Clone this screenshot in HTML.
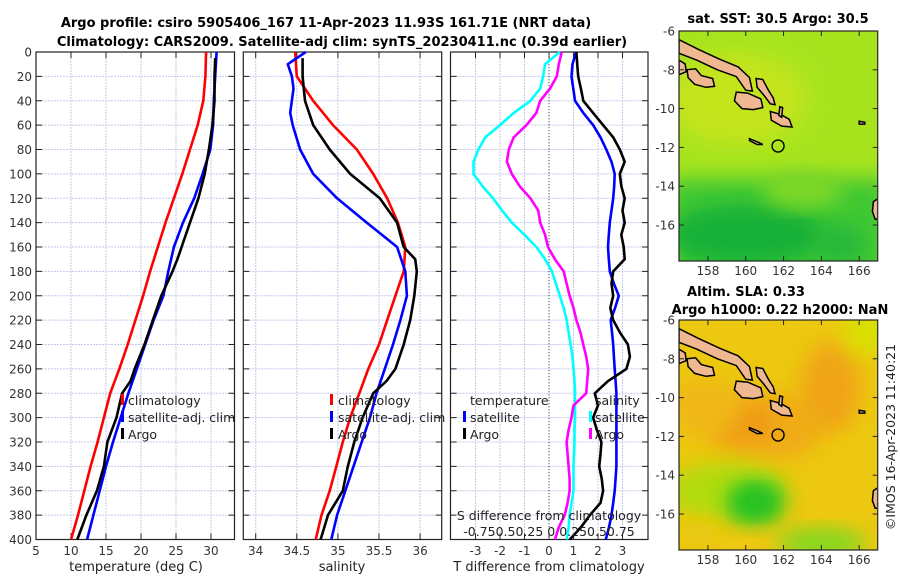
<!DOCTYPE html>
<html><head><meta charset="utf-8"><style>
body{margin:0;background:#fff;}
svg{display:block;font-family:"DejaVu Sans","Liberation Sans",sans-serif;}
</style></head><body>
<svg id="c" width="900" height="580" viewBox="0 0 900 580">
<defs>
<filter id="blur1" x="-30%" y="-30%" width="160%" height="160%"><feGaussianBlur stdDeviation="10"/></filter>
<clipPath id="m1clip"><rect x="679" y="31" width="198" height="230"/></clipPath>
<clipPath id="m2clip"><rect x="679" y="320" width="198" height="230"/></clipPath>
</defs>
<text x="326" y="27" text-anchor="middle" font-size="13" font-weight="bold">Argo profile: csiro 5905406_167 11-Apr-2023 11.93S 161.71E (NRT data)</text>
<text x="342" y="46" text-anchor="middle" font-size="13" font-weight="bold">Climatology: CARS2009. Satellite-adj clim: synTS_20230411.nc (0.39d earlier)</text>
<g id="g"></g>
</svg>
<script>
// ---- depth grids and data ----
const depths = [0,20,40,60,80,100,120,140,160,180,200,220,240,260,280,300,320,340,360,380,400];
const tempClim = [29.3,29.2,28.9,28.1,27.0,25.9,24.7,23.5,22.4,21.3,20.3,19.2,18.1,16.9,15.6,14.7,13.8,12.8,11.9,11.0,10.0];
const tempSat  = [30.8,30.6,30.4,30.3,29.9,28.8,27.6,26.0,24.7,23.9,23.2,21.8,20.6,19.4,18.2,17.1,16.0,15.0,14.1,13.2,12.3];
const argoDepths = [5,20,40,60,80,100,120,140,160,170,180,200,220,240,260,270,280,300,320,340,360,380,400];
const tempArgo = [30.6,30.5,30.5,30.2,29.7,29.1,28.2,27.0,25.8,25.2,24.5,22.9,21.7,20.5,19.1,18.5,17.3,16.5,15.2,14.7,13.7,12.2,10.9];
const salClim = [34.48,34.5,34.70,34.94,35.23,35.43,35.6,35.73,35.82,35.8,35.7,35.6,35.5,35.37,35.26,35.15,35.06,34.98,34.9,34.8,34.73];
const salSatDepths = [0,10,20,30,50,60,80,100,120,140,160,180,200,220,240,260,280,300,320,340,360,380,400];
const salSat = [34.61,34.39,34.44,34.46,34.42,34.45,34.54,34.7,34.99,35.35,35.72,35.82,35.84,35.76,35.67,35.57,35.47,35.39,35.29,35.19,35.09,34.99,34.92];
const salArgo = [34.57,34.57,34.6,34.7,34.9,35.15,35.51,35.72,35.8,35.94,35.96,35.93,35.88,35.8,35.7,35.59,35.43,35.3,35.2,35.12,35.06,34.88,34.79];
// difference panel
const dDepths = [0,10,20,30,40,50,60,70,80,90,100,110,120,130,140,150,160,170,180,190,200,210,220,230,240,250,260,270,280,290,300,310,320,330,340,350,360,370,380,390,400];
const dTempSat = [1.10,0.96,0.92,0.99,1.06,1.4,1.8,2.1,2.34,2.55,2.68,2.66,2.62,2.55,2.48,2.44,2.41,2.44,2.48,2.65,2.85,2.7,2.52,2.57,2.62,2.65,2.68,2.72,2.75,2.75,2.75,2.75,2.75,2.75,2.75,2.72,2.68,2.62,2.55,2.45,2.32];
const dTempArgo = [1.12,1.15,1.19,1.3,1.4,1.8,2.21,2.62,2.89,3.09,2.89,2.95,3.09,3.0,3.09,2.95,3.05,3.09,2.62,2.55,2.62,2.5,2.62,2.89,3.22,3.3,3.16,2.41,1.87,2.0,1.8,1.95,2.14,2.1,2.05,2.15,2.21,2.1,1.67,1.3,0.85];
const dSalSat = [0.11,-0.04,-0.06,-0.09,-0.19,-0.36,-0.5,-0.65,-0.72,-0.77,-0.77,-0.68,-0.57,-0.48,-0.38,-0.25,-0.13,-0.04,0.03,0.07,0.11,0.15,0.18,0.2,0.22,0.24,0.25,0.26,0.265,0.265,0.265,0.26,0.26,0.255,0.25,0.25,0.25,0.23,0.21,0.2,0.18];
const dSalArgo = [0.13,0.1,0.08,0.01,-0.09,-0.13,-0.23,-0.36,-0.41,-0.43,-0.38,-0.3,-0.19,-0.11,-0.09,-0.04,-0.01,0.06,0.15,0.18,0.21,0.25,0.28,0.32,0.35,0.38,0.4,0.39,0.38,0.25,0.23,0.2,0.18,0.19,0.2,0.21,0.21,0.19,0.16,0.1,0.06];
const depthTicks = [0,20,40,60,80,100,120,140,160,180,200,220,240,260,280,300,320,340,360,380,400];
const tempTicks = [5,10,15,20,25,30];
const salTicks = [34,34.5,35,35.5,36];
const salTickLabels = ["34","34.5","35","35.5","36"];
const dTicks = [-3,-2,-1,0,1,2,3];
const latTicks = [-6,-8,-10,-12,-14,-16];
const lonTicks = [158,160,162,164,166];
const argoLon = 161.71, argoLat = -11.93;

const NS='http://www.w3.org/2000/svg';
const G=document.getElementById('g');
function mk(tag,attrs,parent,text){const e=document.createElementNS(NS,tag);for(const k in attrs)e.setAttribute(k,attrs[k]);if(text!==undefined)e.textContent=text;(parent||G).appendChild(e);return e;}

const yTop=52, yBot=539.5;
const yD = d => yTop + d*(yBot-yTop)/400;
const xT = t => 36 + (t-5)*7.0;
const xS = s => 255.7 + (s-34)*82.2;
const xDT = t => 549 + t*24.5;
const xDS = s => 549 + s*98;

function panel(name,x0,x1,xt,xticks,labels,showY){
  const g=mk('g',{});
  
  
  depthTicks.forEach(d=>{
    const l=mk('line',{x1:x0,x2:x1,y1:yD(d),y2:yD(d),stroke:'#c4c8ec','stroke-width':1,'stroke-dasharray':'2,1'},g);
    
    
    mk('line',{x1:x0,x2:x0+6,y1:yD(d),y2:yD(d),stroke:'#222'},g);
    mk('line',{x1:x1-6,x2:x1,y1:yD(d),y2:yD(d),stroke:'#222'},g);
    if(showY){const t=mk('text',{x:x0-4,y:yD(d)+4.5,'text-anchor':'end','font-size':12,fill:'#333'},g,String(d));
      
      }
  });
  xticks.forEach((v,i)=>{
    const X=xt(v);
    const l=mk('line',{x1:X,x2:X,y1:yTop,y2:yBot,stroke:'#c4c8ec','stroke-width':1,'stroke-dasharray':'2,1'},g);
    
    
    mk('line',{x1:X,x2:X,y1:yBot-6,y2:yBot,stroke:'#222'},g);
    mk('line',{x1:X,x2:X,y1:yTop,y2:yTop+6,stroke:'#222'},g);
    const t=mk('text',{x:X,y:555,'text-anchor':'middle','font-size':12,fill:'#333'},g,labels[i]);
    
    
  });
  const r=mk('rect',{x:x0,y:yTop,width:x1-x0,height:yBot-yTop,fill:'none',stroke:'#222','stroke-width':1.2},g);
  
  
  return g;
}
function line(g,ds,vs,xf,color,name){
  const p=ds.map((d,i)=>(i?'L':'M')+xf(vs[i]).toFixed(1)+','+yD(d).toFixed(1)).join('');
  const e=mk('path',{d:p,fill:'none',stroke:color,'stroke-width':2.6,'stroke-linejoin':'round'},g);
  
  
}
function txt(g,x,y,s,name,anchor,size){const t=mk('text',{x:x,y:y,'font-size':size||12.5,fill:'#222','text-anchor':anchor||'start'},g,s);
  
  return t;}
function mark(g,x,y,c){const r=mk('rect',{x:x,y:y-11,width:3,height:11,fill:c},g);
  
  }

// Panel 1
const p1=panel('temperature-panel',36,234.5,xT,tempTicks,tempTicks.map(String),true);
line(p1,depths,tempClim,xT,'#ff0000','temperature-climatology-line');
line(p1,depths,tempSat,xT,'#0000ff','temperature-satellite-line');
line(p1,argoDepths,tempArgo,xT,'#000','temperature-argo-line');
mark(p1,121,405,'#ff0000');txt(p1,128,405,'climatology','legend-climatology');
mark(p1,121,422,'#0000ff');txt(p1,128,422,'satellite-adj. clim','legend-satellite');
mark(p1,121,439,'#000');txt(p1,128,439,'Argo','legend-argo');
txt(p1,136,571,'temperature (deg C)','x-axis-title-temperature','middle',13);

// Panel 2
const p2=panel('salinity-panel',243.3,441.7,xS,salTicks,salTickLabels,false);
line(p2,depths,salClim,xS,'#ff0000','salinity-climatology-line');
line(p2,salSatDepths,salSat,xS,'#0000ff','salinity-satellite-line');
line(p2,argoDepths,salArgo,xS,'#000','salinity-argo-line');
mark(p2,330,405,'#ff0000');txt(p2,338,405,'climatology','legend-climatology');
mark(p2,330,422,'#0000ff');txt(p2,338,422,'satellite-adj. clim','legend-satellite');
mark(p2,330,439,'#000');txt(p2,338,439,'Argo','legend-argo');
txt(p2,342,571,'salinity','x-axis-title-salinity','middle',13);

// Panel 3
const p3=panel('difference-panel',450.5,648,xDT,dTicks,dTicks.map(String),false);
const z=mk('line',{x1:549,x2:549,y1:yTop,y2:yBot,stroke:'#555','stroke-dasharray':'1,2'},p3);


line(p3,dDepths,dSalSat,xDS,'#00ffff','salinity-satellite-diff-line');
line(p3,dDepths,dSalArgo,xDS,'#ff00ff','salinity-argo-diff-line');
line(p3,dDepths,dTempSat,xDT,'#0000ff','temperature-satellite-diff-line');
line(p3,dDepths,dTempArgo,xDT,'#000','temperature-argo-diff-line');
txt(p3,470,405,'temperature','legend-temperature-header');
mark(p3,463,422,'#0000ff');txt(p3,470,422,'satellite','legend-temp-satellite');
mark(p3,463,439,'#000');txt(p3,470,439,'Argo','legend-temp-argo');
txt(p3,595,405,'salinity','legend-salinity-header');
mark(p3,589,422,'#00ffff');txt(p3,595,422,'satellite','legend-sal-satellite');
mark(p3,589,439,'#ff00ff');txt(p3,595,439,'Argo','legend-sal-argo');
txt(p3,549,520,'S difference from climatology','s-axis-title','middle',12.5);
txt(p3,549,536,'-0.750.50.25 0 0.250.50.75','s-axis-tick-labels','middle',12.5);
txt(p3,549,571,'T difference from climatology','x-axis-title-tdiff','middle',13);

// ---- Maps ----
const mx0=679, mx1=877.7, lonMin=156.47, lonMax=166.98;
const mLon = lon => mx0 + (lon-lonMin)*(mx1-mx0)/(lonMax-lonMin);
const pxPerLat = 19.4;
// island outlines in lon/lat
const islands = [
 [[156.47,-6.45],[157.5,-6.95],[158.6,-7.45],[159.6,-7.85],[160.2,-8.4],[160.35,-9.1],[160.0,-9.05],[159.5,-8.35],[158.5,-8.0],[157.4,-7.5],[156.47,-7.15]],
 [[156.47,-7.5],[156.8,-7.7],[156.85,-8.1],[156.47,-8.25]],
 [[156.9,-8.0],[157.35,-7.95],[157.65,-8.3],[158.25,-8.45],[158.35,-8.85],[157.9,-8.9],[157.3,-8.75],[156.95,-8.4]],
 [[159.5,-9.15],[160.1,-9.2],[160.8,-9.5],[160.9,-9.95],[160.4,-10.05],[159.8,-10.0],[159.4,-9.6]],
 [[160.55,-8.45],[160.9,-8.5],[161.2,-9.05],[161.45,-9.45],[161.55,-9.8],[161.3,-9.75],[160.95,-9.3],[160.6,-8.9]],
 [[161.3,-10.15],[161.85,-10.3],[162.3,-10.55],[162.45,-10.95],[161.9,-10.9],[161.35,-10.6]],
 [[161.8,-9.9],[161.95,-9.95],[161.9,-10.45],[161.75,-10.35]],
 [[160.2,-11.55],[160.7,-11.75],[160.9,-11.85],[160.6,-11.85],[160.2,-11.65]],
 [[166.0,-10.65],[166.3,-10.7],[166.3,-10.8],[166.0,-10.8]],
 [[166.98,-14.65],[166.75,-14.8],[166.7,-15.3],[166.85,-15.7],[166.98,-15.7]]
];
function map(name,yTopM,clipId,kind){
  const g=mk('g',{});
  
  
  const mLat = lat => yTopM + (-6-lat)*pxPerLat;
  const bg=mk('g',{'clip-path':'url(#'+clipId+')'},g);
  if(kind==='sst'){
    mk('rect',{x:mx0,y:yTopM,width:mx1-mx0,height:230,fill:'#a8e41e'},bg);
    mk('ellipse',{cx:mLon(159.5),cy:mLat(-9.5),rx:70,ry:45,fill:'#c4e41c',filter:'url(#blur1)'},bg);
    mk('rect',{x:mx0-10,y:mLat(-13.6),width:220,height:130,fill:'#40c832',filter:'url(#blur1)'},bg);
    mk('ellipse',{cx:mLon(160),cy:mLat(-16.5),rx:80,ry:30,fill:'#18b038',filter:'url(#blur1)'},bg);
    mk('ellipse',{cx:mLon(165),cy:mLat(-17),rx:25,ry:20,fill:'#28b83a',filter:'url(#blur1)'},bg);
    mk('ellipse',{cx:mLon(163),cy:mLat(-14.2),rx:40,ry:18,fill:'#80d828',filter:'url(#blur1)'},bg);
  } else {
    mk('rect',{x:mx0,y:yTopM,width:mx1-mx0,height:230,fill:'#ecc810'},bg);
    mk('ellipse',{cx:mLon(161),cy:mLat(-11.5),rx:60,ry:35,fill:'#f0ac18',filter:'url(#blur1)'},bg);
    mk('ellipse',{cx:mLon(164.5),cy:mLat(-9.5),rx:30,ry:45,fill:'#f0a418',filter:'url(#blur1)'},bg);
    mk('ellipse',{cx:mLon(160),cy:mLat(-11.3),rx:30,ry:16,fill:'#f09818',filter:'url(#blur1)'},bg);
    mk('ellipse',{cx:mLon(157.8),cy:mLat(-10.5),rx:35,ry:30,fill:'#f0b818',filter:'url(#blur1)'},bg);
    mk('ellipse',{cx:mLon(166.5),cy:mLat(-6.5),rx:25,ry:25,fill:'#d8e000',filter:'url(#blur1)'},bg);
    mk('ellipse',{cx:mLon(159),cy:mLat(-14.8),rx:60,ry:28,fill:'#b0dc10',filter:'url(#blur1)'},bg);
    mk('ellipse',{cx:mLon(160.5),cy:mLat(-15.4),rx:30,ry:22,fill:'#38c828',filter:'url(#blur1)'},bg);
    mk('ellipse',{cx:mLon(160.5),cy:mLat(-15.4),rx:18,ry:14,fill:'#20c020',filter:'url(#blur1)'},bg);
    mk('ellipse',{cx:mLon(164),cy:mLat(-17.5),rx:45,ry:15,fill:'#80d820',filter:'url(#blur1)'},bg);
    mk('ellipse',{cx:mLon(157.5),cy:mLat(-17),rx:20,ry:12,fill:'#e8c810',filter:'url(#blur1)'},bg);
  }
  islands.forEach(poly=>{
    const p=mk('polygon',{points:poly.map(q=>mLon(q[0]).toFixed(1)+','+mLat(q[1]).toFixed(1)).join(' '),fill:'#f0b890',stroke:'#000','stroke-width':1.5},bg);
    
    
  });
  const c=mk('circle',{cx:mLon(argoLon),cy:mLat(argoLat),r:6,fill:'none',stroke:'#000','stroke-width':1.4},bg);
  
  
  latTicks.forEach(v=>{
    const Y=mLat(v);
    mk('line',{x1:mx0,x2:mx0+5,y1:Y,y2:Y,stroke:'#222'},g);
    mk('line',{x1:mx1-5,x2:mx1,y1:Y,y2:Y,stroke:'#222'},g);
    const t=mk('text',{x:mx0-4,y:Y+4.5,'text-anchor':'end','font-size':12,fill:'#333'},g,String(v));
    
    
  });
  lonTicks.forEach(v=>{
    const X=mLon(v);
    mk('line',{x1:X,x2:X,y1:yTopM+225,y2:yTopM+230,stroke:'#222'},g);
    mk('line',{x1:X,x2:X,y1:yTopM,y2:yTopM+5,stroke:'#222'},g);
    const t=mk('text',{x:X,y:yTopM+244,'text-anchor':'middle','font-size':12,fill:'#333'},g,String(v));
    
    
  });
  const r=mk('rect',{x:mx0,y:yTopM,width:mx1-mx0,height:230,fill:'none',stroke:'#222','stroke-width':1.2},g);
  
  
  return g;
}
const m1=map('sst-map',31,'m1clip','sst');
const t1=mk('text',{x:778,y:23,'text-anchor':'middle','font-size':13,'font-weight':'bold'},m1,'sat. SST: 30.5 Argo: 30.5');


const m2=map('sla-map',320,'m2clip','sla');
const t2=mk('text',{x:746,y:296,'text-anchor':'middle','font-size':13,'font-weight':'bold'},m2,'Altim. SLA: 0.33');


const t3=mk('text',{x:780,y:314,'text-anchor':'middle','font-size':13,'font-weight':'bold'},m2,'Argo h1000: 0.22 h2000: NaN');


const cp=mk('text',{x:0,y:0,'text-anchor':'middle','font-size':12.5,fill:'#222',transform:'translate(895,437) rotate(-90)'},G,'©IMOS 16-Apr-2023 11:40:21');


</script>
</body></html>
